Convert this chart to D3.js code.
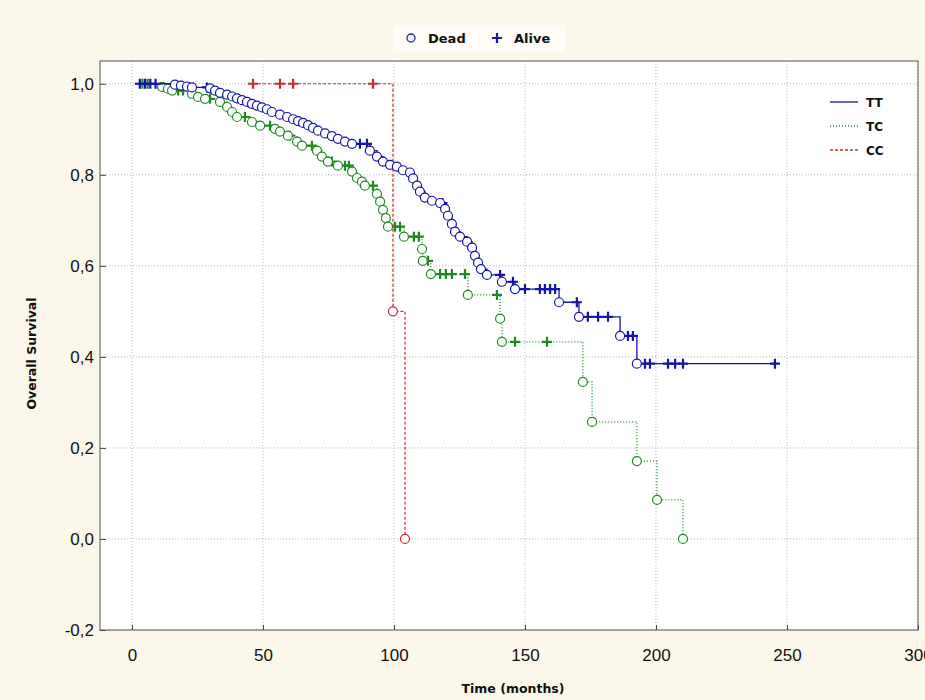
<!DOCTYPE html>
<html>
<head>
<meta charset="utf-8">
<script src="https://cdnjs.cloudflare.com/ajax/libs/d3/7.8.5/d3.min.js"></script>
<style>
    body { margin: 0; background: #fbf7ea; }
    svg { display: block; }
    .tick text { font-family: "Liberation Sans", Arial, sans-serif; font-size: 17px; fill: #111; }
    .title { font-family: "DejaVu Sans", sans-serif; font-weight: bold; font-size: 12.5px; fill: #111; }
    .leg { font-family: "DejaVu Sans", sans-serif; font-weight: bold; font-size: 12px; fill: #111; }
</style>
</head>
<body>
<svg id="chart" width="925" height="700"></svg>
<script>
// survival steps: [months, survival after the death]
var ttDeaths = [[16.4,0.998],[18.7,0.996],[21.0,0.994],[22.9,0.992],[29.8,0.990],[31.7,0.985],[33.6,0.980],
    [36.3,0.976],[38.2,0.972],[40.1,0.968],[42.0,0.964],[43.9,0.960],[45.8,0.956],[47.7,0.952],[49.6,0.948],
    [51.5,0.944],[53.4,0.938],[56.5,0.932],[59.2,0.927],[61.5,0.922],[63.4,0.918],[65.3,0.914],[67.2,0.909],
    [69.1,0.903],[71.0,0.897],[73.7,0.891],[76.3,0.885],[78.6,0.879],[81.3,0.873],[84.0,0.868],[90.8,0.853],
    [93.5,0.840],[95.8,0.829],[98.5,0.822],[101.1,0.818],[103.4,0.810],[106.1,0.805],[107.3,0.792],[108.8,0.776],
    [109.9,0.763],[111.8,0.750],[114.5,0.743],[117.6,0.738],[119.5,0.725],[120.6,0.710],[122.1,0.692],[123.3,0.675],
    [125.2,0.664],[127.9,0.653],[129.8,0.640],[130.9,0.622],[132.1,0.607],[133.2,0.593],[135.5,0.580],[141.2,0.565],
    [146.2,0.549],[163.0,0.520],[170.6,0.488],[186.3,0.446],[192.7,0.385]];
var ttCensored = [3,5,7,9,28.6,87.0,89.7,118.5,140.5,145.4,150.0,155.7,157.6,159.6,161.5,169.8,174.0,177.9,
    181.7,189.3,191.2,195.8,197.7,204.6,207.3,210.3,245.4];

var tcDeaths = [[11.5,0.993],[13.7,0.989],[15.3,0.985],[22.9,0.978],[25.2,0.971],[27.9,0.967],[33.6,0.960],
    [36.3,0.949],[38.2,0.938],[40.1,0.927],[45.8,0.916],[48.9,0.908],[54.6,0.901],[56.5,0.895],[59.5,0.886],
    [63.0,0.873],[64.9,0.864],[70.6,0.853],[72.5,0.840],[74.8,0.829],[78.6,0.820],[84.0,0.807],[85.9,0.793],
    [87.8,0.785],[88.9,0.776],[93.5,0.758],[94.7,0.741],[95.8,0.723],[96.9,0.705],[97.7,0.686],[103.8,0.664],
    [110.7,0.637],[111.0,0.611],[114.1,0.582],[128.2,0.536],[140.5,0.484],[141.2,0.433],[172.1,0.345],
    [175.6,0.257],[192.7,0.171],[200.4,0.086],[210.3,0.0]];
var tcCensored = [4,6,17.6,19.5,29.8,43.1,52.7,60.3,68.7,76.3,81.3,82.8,92.0,100.4,102.3,107.6,109.5,113.0,
    117.6,119.8,122.1,127.1,139.3,146.2,158.4];

var ccDeaths = [[99.6,0.5],[104.2,0.0]];
var ccCensored = [46.2,56.5,61.5,92.0];

var groups = ["TT", "TC", "CC"];
var xTicks = [0, 50, 100, 150, 200, 250, 300];
var yTicks = [-0.2, 0, 0.2, 0.4, 0.6, 0.8, 1.0];

var svg = d3.select("#chart");
var plotLeft = 100, plotRight = 918, plotTop = 61, plotBottom = 630;

var x = d3.scaleLinear().domain([-12.2, 300]).range([plotLeft, plotRight]);
var y = d3.scaleLinear().domain([-0.2, 1.05]).range([plotBottom, plotTop]);

// legend box at top
svg.append("rect").attr("x", 393).attr("y", 25).attr("width", 172).attr("height", 27).attr("fill", "#fffdf6");

svg.append("rect")
    .attr("x", plotLeft).attr("y", plotTop)
    .attr("width", plotRight - plotLeft).attr("height", plotBottom - plotTop)
    .attr("fill", "#fff");

// grid
svg.append("g").selectAll("line").data(xTicks).enter().append("line")
    .attr("x1", x).attr("x2", x).attr("y1", plotTop).attr("y2", plotBottom)
    .attr("stroke", "#b8b8b8").attr("stroke-dasharray", "1,2");
svg.append("g").selectAll("line").data(yTicks).enter().append("line")
    .attr("x1", plotLeft).attr("x2", plotRight).attr("y1", y).attr("y2", y)
    .attr("stroke", "#b8b8b8").attr("stroke-dasharray", "1,2");

svg.append("g")
    .attr("transform", "translate(0," + plotBottom + ")")
    .call(d3.axisBottom(x).tickValues(xTicks).tickSize(-5).tickPadding(19).tickFormat(d3.format("d")))
    .call(function (g) { g.select(".domain").remove(); });

svg.append("g")
    .attr("transform", "translate(" + plotLeft + ",0)")
    .call(d3.axisLeft(y).tickValues(yTicks).tickSize(-6).tickPadding(6)
        .tickFormat(function (d) { return d.toFixed(1).replace(".", ","); }))
    .call(function (g) { g.select(".domain").remove(); });

svg.selectAll(".tick line").attr("stroke", "#444");

svg.append("rect")
    .attr("x", plotLeft).attr("y", plotTop)
    .attr("width", plotRight - plotLeft).attr("height", plotBottom - plotTop)
    .attr("fill", "none").attr("stroke", "#555").attr("stroke-width", 1);

svg.append("text").attr("class", "title")
    .attr("text-anchor", "middle")
    .attr("transform", "translate(36," + ((plotTop + plotBottom) / 2 + 8) + ") rotate(-90)")
    .text("Overall Survival");
svg.append("text").attr("class", "title")
    .attr("text-anchor", "middle")
    .attr("x", (plotLeft + plotRight) / 2 + 4).attr("y", 693)
    .text("Time (months)");

var styles = {
    TT: {deaths: ttDeaths, cens: ttCensored, color: "#1414a8", dash: null, width: 1.3},
    TC: {deaths: tcDeaths, cens: tcCensored, color: "#1e8a1e", dash: "1,2", width: 1.3},
    CC: {deaths: ccDeaths, cens: ccCensored, color: "#cc2a2a", dash: "3,2", width: 1.2}
};

var plusPath = "M-5,0H5M0,-5V5";

function survAt(deaths, t) {
    var s = 1;
    deaths.forEach(function (d) { if (d[0] <= t) s = d[1]; });
    return s;
}

var plot = svg.append("g");

function drawGroup(name) {
    var st = styles[name];
    var start = Math.min(d3.min(st.cens), d3.min(st.deaths, function (d) { return d[0]; }));
    var end = Math.max(d3.max(st.cens), d3.max(st.deaths, function (d) { return d[0]; }));
    var pts = [[start, 1]].concat(st.deaths);
    pts.push([end, pts[pts.length - 1][1]]);

    var line = d3.line().curve(d3.curveStepAfter)
        .x(function (d) { return x(d[0]); })
        .y(function (d) { return y(d[1]); });

    plot.append("path")
        .attr("d", line(pts))
        .attr("fill", "none")
        .attr("stroke", st.color)
        .attr("stroke-width", st.width)
        .attr("stroke-dasharray", st.dash);

    plot.append("g").selectAll("path").data(st.cens).enter().append("path")
        .attr("d", plusPath)
        .attr("transform", function (t) { return "translate(" + x(t) + "," + y(survAt(st.deaths, t)) + ")"; })
        .attr("stroke", st.color).attr("stroke-width", 2.2);

    plot.append("g").selectAll("circle").data(st.deaths).enter().append("circle")
        .attr("cx", function (d) { return x(d[0]); })
        .attr("cy", function (d) { return y(d[1]); })
        .attr("r", 4.5)
        .attr("fill", "#fff")
        .attr("stroke", st.color)
        .attr("stroke-width", 1.2);
}

drawGroup("TC");
drawGroup("CC");
drawGroup("TT");

// top legend
svg.append("circle").attr("cx", 411).attr("cy", 38).attr("r", 4)
    .attr("fill", "#f4f4ff").attr("stroke", "#2a2a88").attr("stroke-width", 1.3);
svg.append("text").attr("class", "leg").attr("x", 428).attr("y", 43).style("font-size", "13px").text("Dead");
svg.append("path").attr("d", plusPath).attr("transform", "translate(497,38)")
    .attr("stroke", "#1a1a9a").attr("stroke-width", 2.2);
svg.append("text").attr("class", "leg").attr("x", 514).attr("y", 43).style("font-size", "13px").text("Alive");

// series legend
var lg = svg.append("g").selectAll("g").data(groups).enter().append("g")
    .attr("transform", function (d, i) { return "translate(830," + (102 + i * 24) + ")"; });
lg.append("line").attr("x1", 0).attr("x2", 28).attr("y1", 0).attr("y2", 0)
    .attr("stroke", function (d) { return styles[d].color; })
    .attr("stroke-width", 1.3)
    .attr("stroke-dasharray", function (d) { return styles[d].dash; });
lg.append("text").attr("class", "leg").attr("x", 36).attr("y", 5).text(function (d) { return d; });
</script>
</body>
</html>
